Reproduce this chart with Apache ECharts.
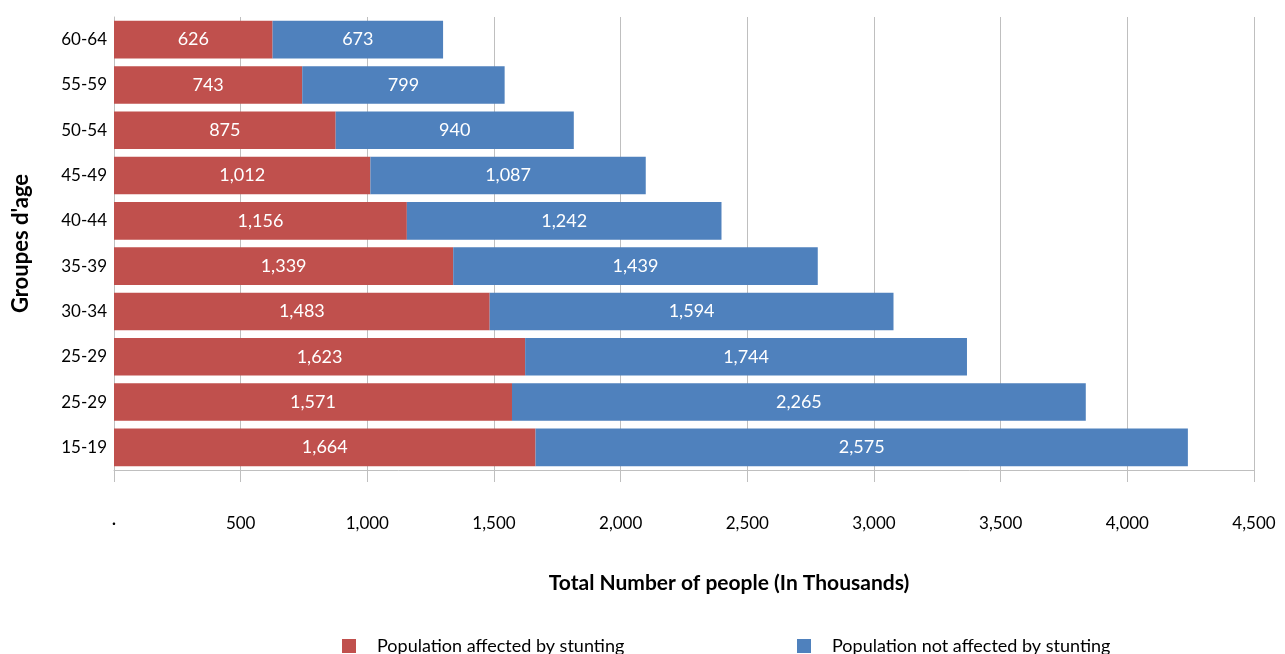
<!DOCTYPE html>
<html>
<head>
<meta charset="utf-8">
<script src="https://cdn.jsdelivr.net/npm/echarts@6/dist/echarts.min.js"></script>
<style>
  html, body { margin: 0; padding: 0; background: #fff; }
  #chart { width: 1285px; height: 654px; }
</style>
</head>
<body>
<div id="chart"></div>
<script>
// bottom to top, as drawn
var ageGroups = ["15-19", "25-29", "25-29", "30-34", "35-39", "40-44", "45-49", "50-54", "55-59", "60-64"];
var affected = [1664, 1571, 1623, 1483, 1339, 1156, 1012, 875, 743, 626];
var notAffected = [2575, 2265, 1744, 1594, 1439, 1242, 1087, 940, 799, 673];
var xTicks = [0, 500, 1000, 1500, 2000, 2500, 3000, 3500, 4000, 4500];
var seriesNames = ["Population affected by stunting", "Population not affected by stunting"];

var font = "Lato, 'Open Sans', sans-serif";
var gray = "#bfbfbf";

var chart = echarts.init(document.getElementById("chart"));

function fmt(v) {
  return v.toLocaleString("en-US");
}

var labelOpt = {
  show: true,
  position: "inside",
  color: "#fff",
  fontFamily: font,
  fontSize: 18,
  formatter: function (p) { return fmt(p.value); }
};

function legendAt(name, left) {
  return {
    data: [name],
    left: left,
    top: 632,
    itemWidth: 14,
    itemHeight: 14,
    icon: "rect",
    textStyle: { fontFamily: font, fontSize: 18, color: "#000", padding: [2, 0, 0, 16] }
  };
}

chart.setOption({
  animation: false,
  textStyle: { fontFamily: font },
  grid: { left: 114, right: 31, top: 17, bottom: 184, containLabel: false },
  legend: [legendAt(seriesNames[0], 337), legendAt(seriesNames[1], 792)],
  xAxis: {
    type: "value",
    min: xTicks[0],
    max: xTicks[xTicks.length - 1],
    interval: 500,
    name: "Total Number of people (In Thousands)",
    nameLocation: "middle",
    nameGap: 103,
    nameTextStyle: {
      fontFamily: font, fontSize: 21, fontWeight: "bold", color: "#000",
      padding: [0, 0, 0, 90]
    },
    axisLine: { show: true, lineStyle: { color: gray, width: 1 } },
    axisTick: { show: true, length: 12, lineStyle: { color: gray } },
    splitLine: { show: true, lineStyle: { color: gray, width: 1 } },
    axisLabel: {
      margin: 45,
      fontFamily: font,
      fontSize: 17,
      color: "#000",
      formatter: function (v) { return v === 0 ? "·" : fmt(v); }
    }
  },
  yAxis: {
    type: "category",
    data: ageGroups,
    name: "Groupes d'age",
    nameLocation: "middle",
    nameGap: 82,
    nameRotate: 90,
    nameTextStyle: { fontFamily: font, fontSize: 22, fontWeight: "bold", color: "#000" },
    axisLine: { show: true, lineStyle: { color: gray } },
    axisTick: { show: false },
    axisLabel: { margin: 7, fontFamily: font, fontSize: 17, color: "#000" }
  },
  series: [
    {
      name: seriesNames[0],
      type: "bar",
      stack: "total",
      barWidth: "83%",
      itemStyle: { color: "#C0504D" },
      label: labelOpt,
      data: affected
    },
    {
      name: seriesNames[1],
      type: "bar",
      stack: "total",
      barWidth: "83%",
      itemStyle: { color: "#4F81BD" },
      label: labelOpt,
      data: notAffected
    }
  ]
});
</script>
</body>
</html>
